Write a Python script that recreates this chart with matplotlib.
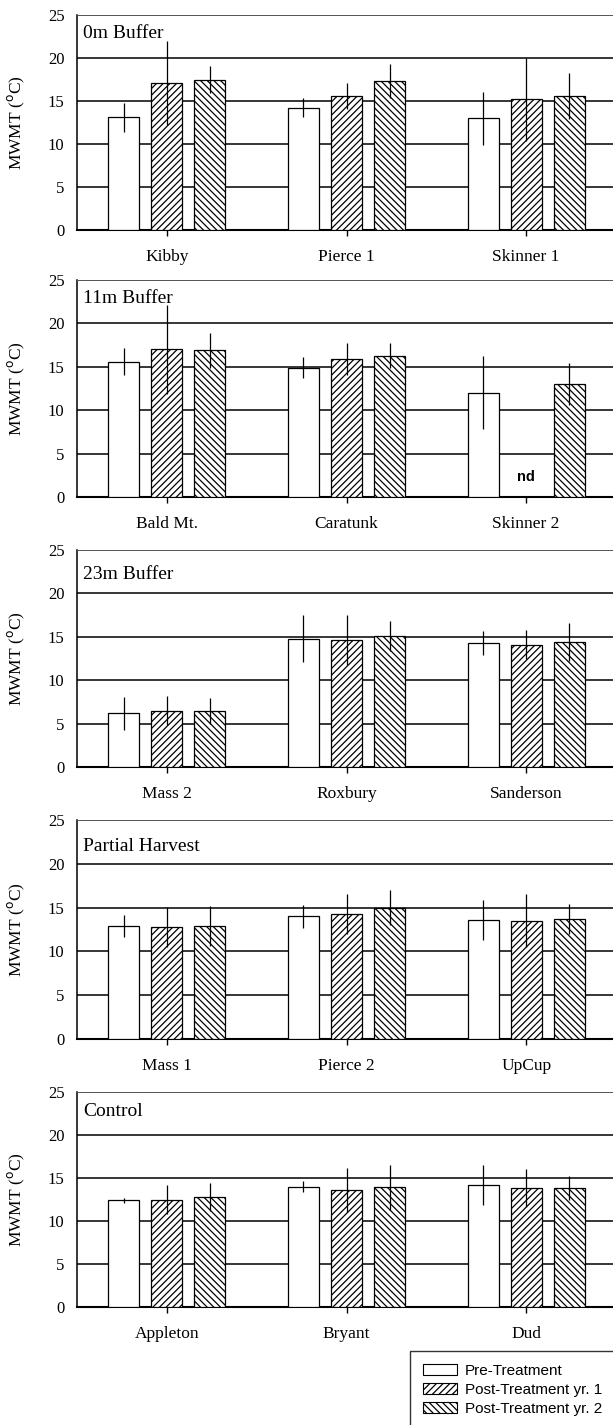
import numpy as np
import matplotlib
matplotlib.use('Agg')
import matplotlib.pyplot as plt
from matplotlib.patches import Patch

nan = np.nan

# ---- data -----------------------------------------------------------------
TITLES = ['0m Buffer', '11m Buffer', '23m Buffer', 'Partial Harvest', 'Control']

SITES = [
    ['Kibby', 'Pierce 1', 'Skinner 1'],
    ['Bald Mt.', 'Caratunk', 'Skinner 2'],
    ['Mass 2', 'Roxbury', 'Sanderson'],
    ['Mass 1', 'Pierce 2', 'UpCup'],
    ['Appleton', 'Bryant', 'Dud'],
]

PRE       = [[13.1, 14.2, 13.0], [15.6, 14.9, 12.0], [6.2, 14.8, 14.3],
             [12.9, 14.0, 13.6], [12.4, 14.0, 14.2]]
PRE_ERR   = [[1.7, 1.1, 3.1], [1.6, 1.2, 4.2], [1.9, 2.7, 1.4],
             [1.3, 1.3, 2.3], [0.3, 0.6, 2.3]]
POST1     = [[17.1, 15.6, 15.2], [17.0, 15.9, nan], [6.5, 14.6, 14.1],
             [12.8, 14.3, 13.5], [12.5, 13.6, 13.8]]
POST1_ERR = [[4.9, 1.5, 4.8], [5.1, 1.8, nan], [1.7, 2.9, 1.7],
             [2.3, 2.3, 3.0], [1.7, 2.6, 2.2]]
POST2     = [[17.5, 17.3, 15.6], [16.9, 16.3, 13.0], [6.4, 15.1, 14.4],
             [12.9, 15.0, 13.7], [12.8, 13.9, 13.8]]
POST2_ERR = [[1.6, 2.0, 2.7], [2.0, 1.4, 2.4], [1.5, 1.7, 2.2],
             [2.3, 2.0, 1.7], [1.6, 2.6, 1.4]]

SERIES_NAMES = ['Pre-Treatment', 'Post-Treatment yr. 1', 'Post-Treatment yr. 2']
HATCHES      = ['', '/////', '\\\\\\\\\\']

# ---- layout (pixels of the 613x1425 target) -------------------------------
W_PX, H_PX = 613, 1425
AX_LEFT, AX_RIGHT = 77, 616
PANEL_TOP    = [15, 280, 550, 820, 1092]
PANEL_BOTTOM = [230, 497, 767, 1039, 1307]
TITLE_Y      = [0.915, 0.915, 0.885, 0.877, 0.91]

BAR_W  = 0.173
OFFSET = 0.24

SERIF = 'Liberation Serif'
SANS  = 'Liberation Sans'

plt.rcParams['hatch.linewidth'] = 0.9
plt.rcParams['font.family'] = SERIF

fig = plt.figure(figsize=(W_PX / 100, H_PX / 100), dpi=100)

for i in range(5):
    t, b = PANEL_TOP[i], PANEL_BOTTOM[i]
    ax = fig.add_axes([AX_LEFT / W_PX, 1 - b / H_PX,
                       (AX_RIGHT - AX_LEFT) / W_PX, (b - t) / H_PX])
    x = np.arange(len(SITES[i]))

    series = [(PRE[i], PRE_ERR[i]), (POST1[i], POST1_ERR[i]), (POST2[i], POST2_ERR[i])]
    for k, (vals, errs) in enumerate(series):
        xs = x + (k - 1) * OFFSET
        ax.bar(xs, vals, BAR_W, color='white', edgecolor='black',
               linewidth=0.9, hatch=HATCHES[k], zorder=3)
        ax.errorbar(xs, vals, yerr=errs, fmt='none', ecolor='black',
                    elinewidth=0.9, capsize=0, zorder=4)

    # missing value marker
    for j, v in enumerate(POST1[i]):
        if np.isnan(v):
            ax.text(j, 2.3, 'nd', family=SANS, fontsize=10.5, fontweight='bold',
                    ha='center', va='center')

    ax.set_xlim(-0.5, 2.5)
    ax.set_ylim(0, 25)
    ax.set_yticks([0, 5, 10, 15, 20, 25])
    ax.set_xticks(x)
    ax.set_xticklabels(SITES[i])
    ax.tick_params(axis='y', length=0, pad=9, labelsize=12)
    ax.tick_params(axis='x', length=4, width=1, pad=9.5, labelsize=12.5)

    ax.yaxis.grid(True, color='black', linewidth=1.1)
    ax.set_axisbelow(True)

    ax.spines['right'].set_visible(False)
    ax.spines['top'].set_linewidth(0.7)
    ax.spines['top'].set_color('0.35')
    ax.spines['left'].set_linewidth(1.1)
    ax.spines['bottom'].set_linewidth(1.5)

    ax.set_ylabel('MWMT ($^{\\rm o}$C)', fontsize=12.5)
    ax.yaxis.set_label_coords(-0.093, 0.5)

    ax.text(0.012, TITLE_Y[i], TITLES[i], transform=ax.transAxes,
            fontsize=14, ha='left', va='center')

handles = [Patch(facecolor='white', edgecolor='black', linewidth=0.8, hatch=h)
           for h in HATCHES]
leg = fig.legend(handles, SERIES_NAMES, loc='upper left',
                 bbox_to_anchor=(410 / W_PX, 1 - 1351 / H_PX),
                 prop={'family': SANS, 'size': 11}, frameon=True, fancybox=False,
                 edgecolor='black', handlelength=2.2, handleheight=0.75,
                 handletextpad=0.55, labelspacing=0.32, borderpad=0.85,
                 borderaxespad=0)
leg.get_frame().set_linewidth(1.0)

fig.savefig('out.png', dpi=100)
